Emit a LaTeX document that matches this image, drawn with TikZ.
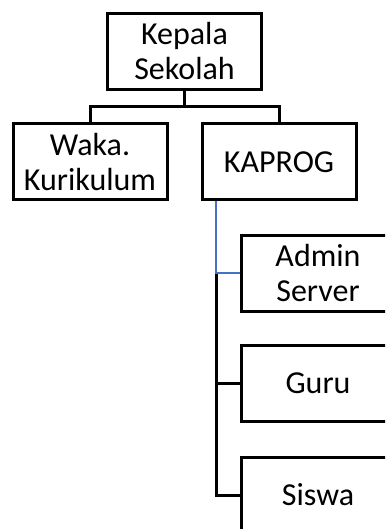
\documentclass[tikz,border=0pt]{standalone}
\usepackage{fontspec}
\setmainfont{Carlito}
\begin{document}
\begin{tikzpicture}[x=1pt,y=-1pt,
  orgbox/.style={draw=black,line width=3pt,fill=white,rectangle,
    minimum width=154pt,minimum height=76pt,inner sep=0pt,align=center,
    font=\fontsize{32}{35}\selectfont},
  link/.style={draw=black,line width=3pt},
  bluelink/.style={draw=linkblue,line width=2.4pt}]
\definecolor{linkblue}{HTML}{4472C4}
\useasboundingbox (0,0) rectangle (385,529);
\clip (0,0) rectangle (385,529);
\fill[white] (0,0) rectangle (385,529);

% top level and second level
\node[orgbox] (kepala) at (184.5,51.5) {Kepala\\Sekolah};
\node[orgbox] (waka)   at (90,162)    {Waka.\\Kurikulum};
\node[orgbox] (kaprog) at (279,162)   {KAPROG};

% units under KAPROG
\node[orgbox] (admin) at (318,273) {Admin\\Server};
\node[orgbox] (guru)  at (318,383) {Guru};
\node[orgbox] (siswa) at (318,495) {Siswa};

% elbow connectors from the head
\coordinate (split) at ([yshift=-16pt]kepala.south);
\draw[link] (kepala.south) -- (split) -| (waka.north);
\draw[link] (split) -| (kaprog.north);

% spine down the left of the units
\coordinate (spinex) at (216,0);
\draw[link] (spinex |- admin.west) -- (spinex |- siswa.west) -- (siswa.west);
\draw[link] (spinex |- guru.west) -- (guru.west);
\draw[bluelink] (spinex |- kaprog.south) -- (spinex |- admin.west) -- (admin.west);
\end{tikzpicture}
\end{document}
